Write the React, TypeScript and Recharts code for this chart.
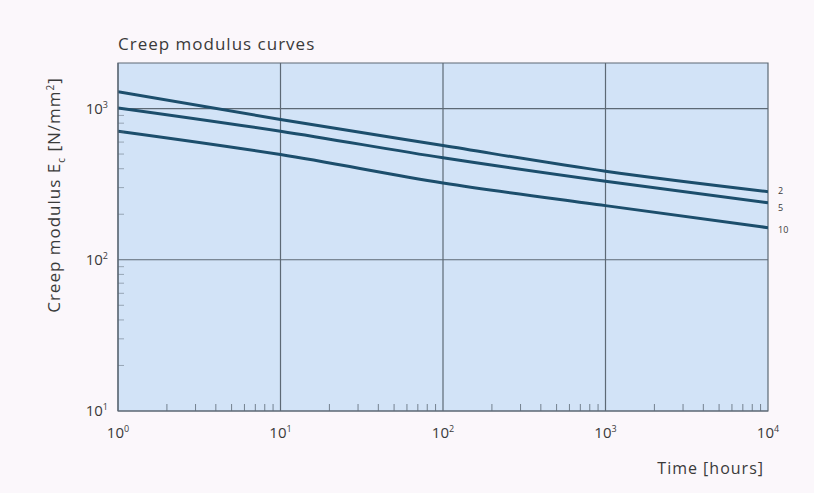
import { LineChart, Line, XAxis, YAxis, ReferenceLine, ReferenceArea, LabelList } from "recharts";

// time in hours (log axis), creep modulus in N/mm²
const hours = [1, 10, 100, 1000, 10000];
const curve2 = [1290, 846, 569, 385, 282];
const curve5 = [1010, 708, 472, 330, 238];
const curve10 = [708, 496, 322, 228, 163];
const seriesNames = ["2", "5", "10"];

const xDecades = [1, 10, 100, 1000, 10000];
const yDecades = [10, 100, 1000];
const xDomain = [1, 10000];
const yDomain = [10, 2000];

const minorSteps = [2, 3, 4, 5, 6, 7, 8, 9];
const xTicks = [
  ...xDecades,
  ...xDecades.slice(0, -1).flatMap(d => minorSteps.map(m => d * m)),
].sort((a, b) => a - b);
const yTicks = [
  ...yDecades,
  ...yDecades.flatMap(d => minorSteps.map(m => d * m)).filter(v => v < 2000),
].sort((a, b) => a - b);

const data = hours.map((t, i) => ({
  t,
  s2: curve2[i],
  s5: curve5[i],
  s10: curve10[i],
}));

const FONT = "'Open Sans', 'DejaVu Sans', sans-serif";
const TEXT = "#3a3a3a";
const GRID = "#5d6975";
const CURVE = "#1c4e6c";

const isDecade = (v: number) => {
  const e = Math.log10(v);
  return Math.abs(e - Math.round(e)) < 1e-6;
};

const XTick = ({ x, y, payload }: any) => {
  const v = payload.value;
  if (isDecade(v)) {
    return (
      <text x={x} y={y + 27} textAnchor="middle" fill={TEXT} fontSize={15} fontFamily={FONT}>
        10<tspan dy={-6} fontSize={9}>{Math.round(Math.log10(v))}</tspan>
      </text>
    );
  }
  return <line x1={x} x2={x} y1={y} y2={y - 7} stroke={GRID} strokeWidth={1} strokeOpacity={0.8} />;
};

const YTick = ({ x, y, payload }: any) => {
  const v = payload.value;
  if (isDecade(v)) {
    return (
      <text x={x - 10} y={y + 5} textAnchor="end" fill={TEXT} fontSize={15} fontFamily={FONT}>
        10<tspan dy={-6} fontSize={9}>{Math.round(Math.log10(v))}</tspan>
      </text>
    );
  }
  return <line x1={x} x2={x + 6} y1={y} y2={y} stroke={GRID} strokeWidth={1} strokeOpacity={0.5} />;
};

const labelShift: Record<string, number> = { "2": -1, "5": 5, "10": 2 };

const endLabel = (name: string) => (props: any) => {
  if (props.index !== hours.length - 1) return null;
  return (
    <text x={props.x + 10} y={props.y + 3 + labelShift[name]} fill={TEXT} fontSize={9} fontFamily={FONT}>
      {name}
    </text>
  );
};

export default function App() {
  return (
    <div style={{ position: "relative", width: 814, height: 493, background: "#fbf7fb", fontFamily: FONT }}>
      <style>{"body{margin:0}"}</style>
      <div style={{ position: "absolute", left: 118, top: 32, fontSize: 17, color: TEXT, letterSpacing: 1 }}>
        Creep modulus curves
      </div>
      <div
        style={{
          position: "absolute",
          left: 55,
          top: 195,
          transform: "translate(-50%, -50%) rotate(-90deg)",
          whiteSpace: "nowrap",
          fontSize: 17,
          letterSpacing: 1,
          color: TEXT,
        }}
      >
        Creep modulus E<sub style={{ fontSize: 10 }}>c</sub> [N/mm<sup style={{ fontSize: 10 }}>2</sup>]
      </div>
      <div style={{ position: "absolute", right: 50, top: 457, fontSize: 16, letterSpacing: 1, color: TEXT }}>
        Time [hours]
      </div>
      <LineChart width={814} height={493} data={data} margin={{ top: 63, right: 46, bottom: 52, left: 58 }}>
        <ReferenceArea
          x1={xDomain[0]} x2={xDomain[1]} y1={yDomain[0]} y2={yDomain[1]}
          fill="#d2e3f7" fillOpacity={1} stroke={GRID} strokeWidth={1.2}
        />
        {xDecades.slice(1, -1).map(v => (
          <ReferenceLine key={"x" + v} x={v} stroke={GRID} strokeWidth={1.2} />
        ))}
        {yDecades.slice(1).map(v => (
          <ReferenceLine key={"y" + v} y={v} stroke={GRID} strokeWidth={1.2} />
        ))}
        <XAxis
          dataKey="t" type="number" scale="log" domain={xDomain} allowDataOverflow
          ticks={xTicks} interval={0} tick={<XTick />} tickSize={0} tickMargin={0}
          tickLine={false} axisLine={{ stroke: GRID, strokeWidth: 1.2 }} height={30}
        />
        <YAxis
          type="number" scale="log" domain={yDomain} allowDataOverflow
          ticks={yTicks} interval={0} tick={<YTick />} tickSize={0} tickMargin={0}
          tickLine={false} axisLine={{ stroke: GRID, strokeWidth: 1.2 }} width={60}
        />
        {(["s2", "s5", "s10"] as const).map((k, i) => (
          <Line
            key={k} dataKey={k} type="monotone" stroke={CURVE} strokeWidth={3}
            dot={false} isAnimationActive={false}
          >
            <LabelList dataKey={k} content={endLabel(seriesNames[i])} />
          </Line>
        ))}
      </LineChart>
    </div>
  );
}
